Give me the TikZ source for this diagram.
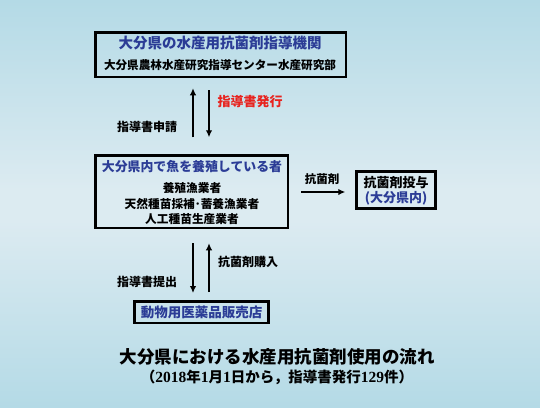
\documentclass[tikz,border=0pt]{standalone}
\usepackage{fontspec}
\setmainfont{Noto Sans CJK JP}[BoldFont={Noto Sans CJK JP Black}]
\newfontfamily\serifdig{Liberation Serif}
\usetikzlibrary{arrows.meta}
\definecolor{bgA}{HTML}{B4DAE6}
\definecolor{bgB}{HTML}{DCEBF1}
\definecolor{tblue}{HTML}{2B3C96}
\definecolor{tred}{HTML}{E8231E}
\newcommand{\fsz}[1]{\fontsize{#1}{#1}\selectfont}
\tikzset{
  box/.style={draw=black, line width=2.5pt, inner sep=0pt, rectangle},
  lbl/.style={inner sep=0pt, font=\bfseries},
  arr/.style={line width=2pt, -{Latex[length=7pt,width=6.5pt]}},
}
\begin{document}
\begin{tikzpicture}[x=1pt,y=-1pt]
\useasboundingbox (0,0) rectangle (540,407);
\shade[top color=bgA, bottom color=bgB] (0,0) rectangle (540,190);
\fill[bgB] (0,189) rectangle (540,221);
\shade[top color=bgB, bottom color=bgA] (0,220) rectangle (540,407);

% boxes
\node[box, minimum width=250.5pt, minimum height=44.5pt] (top) at (220.75,54.75) {};
\node[box, minimum width=192.5pt, minimum height=72.5pt] (mid) at (191.75,191.75) {};
\node[box, minimum width=79pt, minimum height=37pt] (right) at (396,190) {};
\node[box, minimum width=134pt, minimum height=21.5pt] (bot) at (201.5,312) {};

% texts in boxes
\node[lbl, text=tblue, font=\bfseries\fsz{14.5}] (t1) at (220,43) {大分県の水産用抗菌剤指導機関};
\node[lbl, font=\bfseries\fsz{11.6}] (t2) at (220,65) {大分県農林水産研究指導センター水産研究部};

\node[lbl, text=tblue, font=\bfseries\fsz{12.9}] (m1) at (192,167) {大分県内で魚を養殖している者};
\node[lbl, font=\bfseries\fsz{11.7}] (m2) at (192,188) {養殖漁業者};
\node[lbl, font=\bfseries\fsz{11.7}] (m3) at (192,203.5) {天然種苗採補･蓄養漁業者};
\node[lbl, font=\bfseries\fsz{11.7}] (m4) at (192,219) {人工種苗生産業者};

\node[lbl, font=\bfseries\fsz{13}] (r1) at (396,183) {抗菌剤投与};
\node[lbl, text=tblue, font=\bfseries\fsz{13}] (r2) at (396,198) {(大分県内)};

\node[lbl, text=tblue, font=\bfseries\fsz{13.5}] (b1) at (201.5,312) {動物用医薬品販売店};

% arrow labels
\node[lbl, text=tred, font=\bfseries\fsz{13}] (l1) at (250,102) {指導書発行};
\node[lbl, font=\bfseries\fsz{12}] (l2) at (147,127) {指導書申請};
\node[lbl, font=\bfseries\fsz{11.5}] (l3) at (322,179) {抗菌剤};
\node[lbl, font=\bfseries\fsz{12}] (l4) at (248,262) {抗菌剤購入};
\node[lbl, font=\bfseries\fsz{12}] (l5) at (147,282) {指導書提出};

% title
\node[lbl, font=\bfseries\fsz{17.5}] (title) at (277,357) {大分県における水産用抗菌剤使用の流れ};
\node[lbl, font=\bfseries\fsz{14.5}] (sub) at (277,377) {（{\serifdig\fontsize{15.5}{15.5}\selectfont 2018}年{\serifdig\fontsize{15.5}{15.5}\selectfont 1}月{\serifdig\fontsize{15.5}{15.5}\selectfont 1}日から，指導書発行{\serifdig\fontsize{15.5}{15.5}\selectfont 129}件）};

% arrow columns
\coordinate (cl) at (193,0);
\coordinate (cr) at (209,0);
\coordinate (ch) at (0,192);

\draw[arr, shorten <=17pt, shorten >=10pt] (cl |- mid.north) -- (cl |- top.south);
\draw[arr, shorten <=12pt, shorten >=17pt] (cr |- top.south) -- (cr |- mid.north);
\draw[arr, shorten <=14pt, shorten >=7pt] (cl |- mid.south) -- (cl |- bot.north);
\draw[arr, shorten <=8pt, shorten >=14pt] (cr |- bot.north) -- (cr |- mid.south);
\draw[arr, shorten <=12pt, shorten >=10pt] (mid.east |- ch) -- (right.west |- ch);
\end{tikzpicture}
\end{document}
